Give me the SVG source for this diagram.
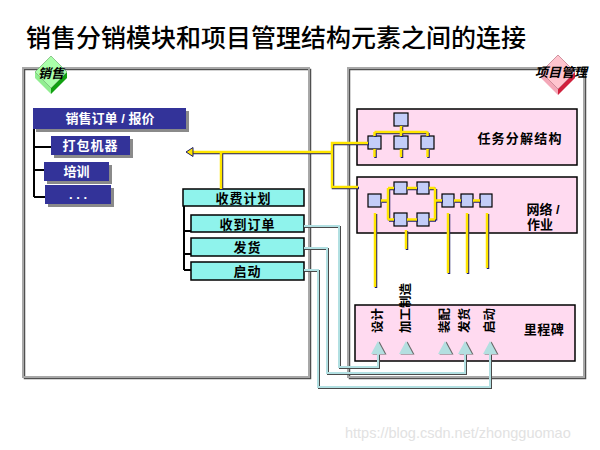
<svg xmlns="http://www.w3.org/2000/svg" width="600" height="450" viewBox="0 0 600 450">
<style>
text{font-family:"Liberation Sans","Noto Sans CJK SC",sans-serif;}
.cjk{font-family:"Noto Sans CJK SC",sans-serif;}
.frame{fill:none;stroke:#a8a8a8;stroke-width:2;}
.frameS{fill:none;stroke:#505050;stroke-width:1.5;}
.navy{fill:#333399;}
.nshadow{fill:#8a8a8a;}
.wt{fill:#fff;font-weight:bold;font-size:13px;text-anchor:middle;}
.cyan{fill:#8ff3ec;stroke:#000;stroke-width:1.5;}
.bt{fill:#000;font-weight:bold;font-size:13px;text-anchor:middle;}
.pink{fill:#ffdaf0;stroke:#000;stroke-width:1.5;}
.node{fill:#c3cdf8;stroke:#000;stroke-width:1.2;}
.blk{fill:none;stroke:#000;stroke-width:2;}
.ys{fill:none;stroke:#1c1c6e;stroke-width:2.5;}
.y{fill:none;stroke:#ffe600;stroke-width:2.5;}
.ls{fill:none;stroke:#4a4a4a;stroke-width:2;}
.l{fill:none;stroke:#b2e0e2;stroke-width:2;}
.tri{fill:#b3dfe0;}
.trs{fill:#6a6a6a;}
.vt{fill:#000;font-weight:bold;font-size:12.5px;dominant-baseline:central;}
</style>

<text x="26" y="47" class="cjk" font-size="25" font-weight="500" fill="#000">销售分销模块和项目管理结构元素之间的连接</text>

<g id="sales-frame">
  <rect x="24.5" y="69.5" width="286" height="309" class="frameS"/>
  <rect x="23" y="68" width="286" height="309" class="frame"/>
  <polygon points="35,72 51,88 51,94 35,78" fill="#90ee90"/>
  <polygon points="51,88 67,72 67,78 51,94" fill="#10a010"/>
  <polygon points="51,56 67,72 51,88 35,72" fill="#aaffaa" stroke="#60a060" stroke-width="0.6"/>
  <text x="51" y="78" class="cjk" font-size="13" font-weight="bold" font-style="italic" text-anchor="middle">销售</text>
</g>

<g id="pm-frame">
  <rect x="349.5" y="69.5" width="236" height="309" class="frameS"/>
  <rect x="348" y="68" width="236" height="309" class="frame"/>
  <polygon points="541,72 558,89 558,95 541,78" fill="#f4a8b8"/>
  <polygon points="558,89 575,72 575,78 558,95" fill="#d0203c"/>
  <polygon points="558,55 575,72 558,89 541,72" fill="#ffc4ce" stroke="#b06070" stroke-width="0.6"/>
  <text x="561" y="77" class="cjk" font-size="13" font-weight="bold" font-style="italic" text-anchor="middle">项目管理</text>
</g>

<g id="sales-order">
  <rect x="36" y="111" width="153" height="21" class="nshadow"/>
  <rect x="33" y="108" width="153" height="21" class="navy"/>
  <text x="110" y="123" class="wt">销售订单 / 报价</text>
</g>
<g id="pack-machine">
  <rect x="54" y="139" width="79" height="19" class="nshadow"/>
  <rect x="51" y="136" width="79" height="19" class="navy"/>
  <text x="90.5" y="150" class="wt" letter-spacing="1">打包机器</text>
</g>
<g id="training">
  <rect x="47" y="165" width="65" height="19" class="nshadow"/>
  <rect x="44" y="162" width="65" height="19" class="navy"/>
  <text x="76.5" y="176" class="wt">培训</text>
</g>
<g id="more">
  <rect x="48" y="188" width="66" height="19" class="nshadow"/>
  <rect x="45" y="185" width="66" height="19" class="navy"/>
  <text x="78" y="199" class="wt">. . .</text>
</g>

<g id="billing-plan">
  <rect x="183" y="189" width="121" height="17" class="cyan"/>
  <text x="243.5" y="202.5" class="bt" letter-spacing="1">收费计划</text>
</g>
<g id="order-received">
  <rect x="191" y="215" width="113" height="17" class="cyan"/>
  <text x="247.5" y="228.5" class="bt" letter-spacing="1">收到订单</text>
</g>
<g id="delivery">
  <rect x="191" y="238" width="113" height="18" class="cyan"/>
  <text x="247.5" y="252" class="bt" letter-spacing="1">发货</text>
</g>
<g id="startup">
  <rect x="191" y="262" width="113" height="18" class="cyan"/>
  <text x="247.5" y="276" class="bt" letter-spacing="1">启动</text>
</g>

<g id="wbs">
  <rect x="357" y="109" width="220" height="56" class="pink"/>
  <text x="520" y="143" class="bt" letter-spacing="1.2">任务分解结构</text>
  <rect x="394" y="113" width="14" height="13" class="node"/>
  <rect x="368" y="136" width="13" height="13" class="node"/>
  <rect x="394" y="136" width="14" height="13" class="node"/>
  <rect x="421" y="136" width="13" height="13" class="node"/>
</g>

<g id="network">
  <rect x="357" y="177" width="220" height="56" class="pink"/>
  <text x="543" y="214" class="bt">网络 /</text>
  <text x="540" y="229" class="bt">作业</text>
  <rect x="368" y="194" width="13" height="13" class="node"/>
  <rect x="394" y="182" width="13" height="12" class="node"/>
  <rect x="417" y="182" width="12" height="12" class="node"/>
  <rect x="394" y="213" width="13" height="13" class="node"/>
  <rect x="417" y="213" width="12" height="13" class="node"/>
  <rect x="442" y="194" width="12" height="13" class="node"/>
  <rect x="461" y="194" width="12" height="13" class="node"/>
  <rect x="480" y="194" width="12" height="13" class="node"/>
</g>

<g id="milestones">
  <rect x="355" y="305" width="220" height="56" class="pink"/>
  <text x="544" y="334" class="bt" letter-spacing="0.5">里程碑</text>
  <text class="vt" transform="translate(378,333) rotate(-90)">设计</text>
  <text class="vt" transform="translate(406,333) rotate(-90)">加工制造</text>
  <text class="vt" transform="translate(445,333) rotate(-90)">装配</text>
  <text class="vt" transform="translate(465,333) rotate(-90)">发货</text>
  <text class="vt" transform="translate(490,333) rotate(-90)">启动</text>
  <g id="tri-shadows" transform="translate(1.5,0.5)">
    <polygon class="trs" points="378,341 385,354 371,354"/>
    <polygon class="trs" points="406,341 413,354 399,354"/>
    <polygon class="trs" points="445,341 452,354 438,354"/>
    <polygon class="trs" points="465,341 472,354 458,354"/>
    <polygon class="trs" points="490,341 497,354 483,354"/>
  </g>
  <polygon class="tri" points="378,341 385,354 371,354"/>
  <polygon class="tri" points="406,341 413,354 399,354"/>
  <polygon class="tri" points="445,341 452,354 438,354"/>
  <polygon class="tri" points="465,341 472,354 458,354"/>
  <polygon class="tri" points="490,341 497,354 483,354"/>
</g>

<g id="connectors">
  <path d="M34,129 V197 M34,147 H51 M34,170 H44 M34,197 H45" class="blk"/>
  <path d="M184,206 V270 M184,231 H191 M184,254 H191 M184,270 H191" class="blk"/>
  <g transform="translate(1,1)">
    <path class="ys" d="M368,143 H332 V187 H358 M332,152 H191 M221,152 V189"/>
    <path class="ys" d="M401,126 V132 M374.5,132 H427.5 M374.5,132 V136 M401,132 V136 M427.5,132 V136 M374.5,149 V157 M401,149 V157 M427.5,149 V157"/>
    <path class="ys" d="M381,200.5 H388 M388,188 V219.5 M388,188 H394 M388,219.5 H394 M407,188 H417 M407,219.5 H417 M429,188 H435 M429,219.5 H435 M435,188 V219.5 M435,200.5 H442 M454,200.5 H461 M473,200.5 H480"/>
    <path class="ys" d="M375,213 V287 M406,230 V249 M448,213 V273 M467,213 V273 M487,213 V268"/>
  </g>
  <path class="y" d="M368,143 H332 V187 H358 M332,152 H191 M221,152 V189"/>
  <path class="y" d="M401,126 V132 M374.5,132 H427.5 M374.5,132 V136 M401,132 V136 M427.5,132 V136 M374.5,149 V157 M401,149 V157 M427.5,149 V157"/>
  <path class="y" d="M381,200.5 H388 M388,188 V219.5 M388,188 H394 M388,219.5 H394 M407,188 H417 M407,219.5 H417 M429,188 H435 M429,219.5 H435 M435,188 V219.5 M435,200.5 H442 M454,200.5 H461 M473,200.5 H480"/>
  <path class="y" d="M375,213 V287 M406,230 V249 M448,213 V273 M467,213 V273 M487,213 V268"/>
  <polygon points="186,152 193,147.5 193,156.5" fill="#ffe600" stroke="#1c1c6e" stroke-width="1"/>
  <g transform="translate(1,1)">
    <path class="ls" d="M304,226 H339 V367 H378 V354"/>
    <path class="ls" d="M304,248 H327 V373 H465 V354"/>
    <path class="ls" d="M304,270 H318 V387 H490 V354"/>
  </g>
  <path class="l" d="M304,226 H339 V367 H378 V354"/>
  <path class="l" d="M304,248 H327 V373 H465 V354"/>
  <path class="l" d="M304,270 H318 V387 H490 V354"/>
</g>

<text x="345" y="438" font-size="14.5" fill="#e2e2e2">https://blog.csdn.net/zhongguomao</text>
</svg>
